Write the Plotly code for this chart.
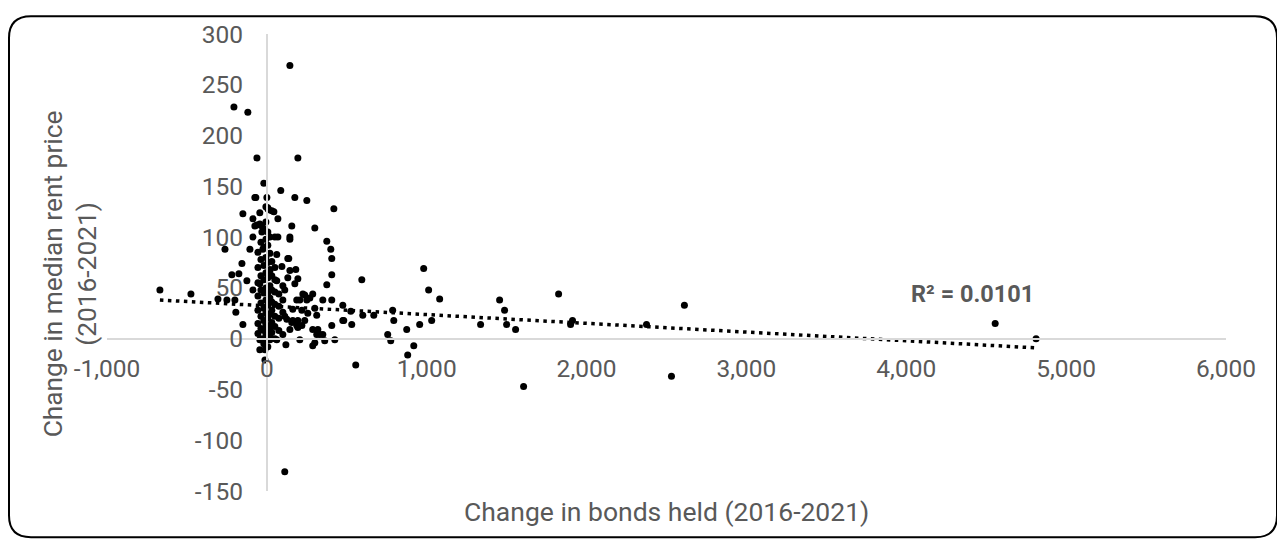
import plotly.graph_objects as go

# ---- data ----
sparse_x = [144, -206, -119, -62, 194, -19, 87, 175, 250, -75, 0, 419, 300, 112, -669, -475,
            -306, -250, -200, -194, -150, -262, -150, 12, 44, 69, -87, 156, -75, -44, -87, -31,
            50, 69, 144, -106, -25, 62, 137, 375, 400, 406, 406, 375, 350, 406, -156, -219,
            -175, -125, -87, -44, 19, 94, 144, 181, 131, 175, 112, 62, 225, 287, 187, 250,
            300, 312, 475, 475, 531, 594, 600, 669, 162, 219, 125, 162, 194, 237, 144, 187,
            219, 287, 350, 312, 287, 406, 425, 206, 119, 62, -44, -12, 19, -12, -44, -12,
            556, 787, 794, 756, 775, 875, 956, 1031, 919, 881, 981, 1012, 1081, 1337, 1456,
            1487, 1500, 1556, 1606, 1825, 1912, 1900, 2375, 2531, 2612, 4556, 4812, 481, 525,
            362, 300, 331, 319, 144, 131, 194, 237, 269, 256, 206, 156, 194, 112,
            -69, -44, 6, -62, -31, 6, 31]
sparse_y = [269, 228, 223, 178, 178, 153, 146, 139, 136, 139, 139, 128, 109, -131, 48, 44,
            39, 38, 38, 26, 14, 88, 123, 127, 125, 118, 118, 111, 111, 113, 100, 105,
            100, 100, 100, 88, 88, 83, 79, 96, 88, 79, 63, 53, 38, 38, 74, 63,
            64, 57, 48, 54, 67, 71, 67, 68, 60, 54, 48, 57, 44, 44, 38, 38,
            30, 23, 33, 18, 14, 58, 23, 23, 29, 28, 19, 18, 18, 18, 9, 13,
            13, 9, 4, 4, -7, 13, -1, -1, -6, -1, -1, -1, -1, -11, -11, -21,
            -26, 28, 18, 4, -2, 9, 14, 18, -7, -16, 69, 48, 39, 14, 38,
            28, 14, 9, -47, 44, 18, 14, 14, -37, 33, 15, 0, 18, 27,
            -2, -4, 4, 9, 98, 79, 59, 43, 40, 25, 38, 16, 11, 22,
            139, 124, 129, 112, 111, 128, 126]

cluster_x = ([-56] * 7 + [-37] * 8 + [-19] * 9 + [-6] * 10 + [6] * 10 + [19] * 8 +
             [31] * 7 + [50] * 7 + [75] * 4 + [100] * 4)
cluster_y = [5, 15, 28, 42, 55, 70, 85,
             0, 10, 22, 35, 48, 62, 78, 95,
             -5, 8, 18, 30, 45, 58, 72, 90, 108,
             3, 14, 25, 38, 50, 65, 80, 98, 115, 130,
             -8, 5, 12, 20, 33, 45, 60, 75, 92, 105,
             2, 10, 24, 40, 52, 68, 84, 100,
             6, 16, 28, 36, 48, 62, 76,
             0, 12, 22, 34, 46, 58, 70,
             8, 20, 32, 44,
             4, 26, 38, 52]

bonds_change = sparse_x + cluster_x
rent_change = sparse_y + cluster_y

trend_intercept = 32.3
trend_slope = -0.0086
r_squared_text = "R² = 0.0101"

x_tickvals = [-1000, 0, 1000, 2000, 3000, 4000, 5000, 6000]
x_ticktext = ["-1,000", "0", "1,000", "2,000", "3,000", "4,000", "5,000", "6,000"]
y_tickvals = [-150, -100, -50, 0, 50, 100, 150, 200, 250, 300]
y_ticktext = ["-150", "-100", "-50", "0", "50", "100", "150", "200", "250", "300"]

x_title = "Change in bonds held (2016-2021)"
y_title = "Change in median rent price<br>(2016-2021)"

# ---- layout geometry (page has an 8px body margin) ----
OFF = 8
W, H = 1270, 532
L, R, T, B = 99, 52, 19, 49
PW, PH = W - L - R, H - T - B
XMIN, XMAX = -1000, 6000
YMIN, YMAX = -150, 300
GREY = "#595959"
FONT = "Roboto"


def px_x(page_x):
    return (page_x - OFF - L) / PW


def px_y(page_y):
    return (T + PH - (page_y - OFF)) / PH


fig = go.Figure()

fig.add_trace(go.Scatter(
    x=bonds_change, y=rent_change, mode="markers",
    marker=dict(color="black", size=7, line=dict(width=0)),
    showlegend=False, hoverinfo="x+y"))

tx0, tx1 = min(bonds_change), max(bonds_change)
fig.add_trace(go.Scatter(
    x=[tx0, tx1],
    y=[trend_intercept + trend_slope * tx0, trend_intercept + trend_slope * tx1],
    mode="lines", line=dict(color="black", width=3.5, dash="3.5px,4.5px"),
    showlegend=False, hoverinfo="skip"))

# rounded border (page coordinates)
bl, br, bt, bb, rad = 9, 1277, 9, 538, 22
path = (f"M {px_x(bl + rad)} {px_y(bt)} L {px_x(br - rad)} {px_y(bt)} "
        f"Q {px_x(br)} {px_y(bt)} {px_x(br)} {px_y(bt + rad)} "
        f"L {px_x(br)} {px_y(bb - rad)} Q {px_x(br)} {px_y(bb)} {px_x(br - rad)} {px_y(bb)} "
        f"L {px_x(bl + rad)} {px_y(bb)} Q {px_x(bl)} {px_y(bb)} {px_x(bl)} {px_y(bb - rad)} "
        f"L {px_x(bl)} {px_y(bt + rad)} Q {px_x(bl)} {px_y(bt)} {px_x(bl + rad)} {px_y(bt)} Z")

fig.update_layout(
    width=W, height=H,
    margin=dict(l=L, r=R, t=T, b=B, pad=0),
    paper_bgcolor="white", plot_bgcolor="white",
    font=dict(family=FONT, color=GREY, size=24),
    xaxis=dict(range=[XMIN, XMAX], tickmode="array", tickvals=x_tickvals, ticktext=x_ticktext,
               showgrid=False, zeroline=False, showline=True, linecolor="#d9d9d9", linewidth=2,
               anchor="free", position=(0 - YMIN) / (YMAX - YMIN), ticks="",
               ticklabelstandoff=8, tickfont=dict(family=FONT, size=24.5, color=GREY)),
    yaxis=dict(range=[YMIN, YMAX], tickmode="array", tickvals=y_tickvals, ticktext=y_ticktext,
               showgrid=False, zeroline=False, showline=True, linecolor="#d9d9d9", linewidth=2,
               anchor="free", position=(0 - XMIN) / (XMAX - XMIN), ticks="",
               ticklabelstandoff=18, tickfont=dict(family=FONT, size=24.5, color=GREY)),
    shapes=[dict(type="path", xref="paper", yref="paper", path=path,
                 line=dict(color="black", width=2), fillcolor="rgba(0,0,0,0)", layer="above")],
    annotations=[
        dict(text=x_title, xref="paper", yref="paper", x=px_x(666), y=px_y(512),
             showarrow=False, font=dict(family=FONT, size=26.5, color=GREY),
             xanchor="center", yanchor="middle"),
        dict(text=y_title, xref="paper", yref="paper", x=px_x(70), y=px_y(271),
             showarrow=False, textangle=-90, font=dict(family=FONT, size=26.3, color=GREY),
             xanchor="center", yanchor="middle"),
        dict(text="<b>" + r_squared_text + "</b>", xref="x", yref="y", x=4412, y=43.6,
             showarrow=False, font=dict(family=FONT, size=23.5, color=GREY),
             xanchor="center", yanchor="middle"),
    ],
)

fig.write_html("out.html")
